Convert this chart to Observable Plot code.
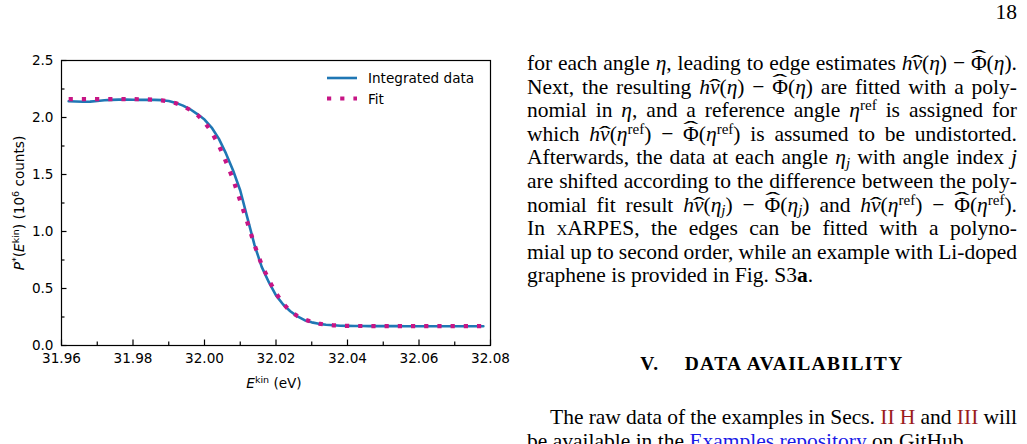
<!DOCTYPE html>
<html><head><meta charset="utf-8">
<script src="https://cdn.jsdelivr.net/npm/d3@7"></script>
<script src="https://cdn.jsdelivr.net/npm/@observablehq/plot@0.6"></script>
<style>
html,body{margin:0;padding:0;background:#fff;}
body{width:1027px;height:444px;overflow:hidden;position:relative;}
#chart{position:absolute;left:0;top:0;}
.tx{position:absolute;font-family:"Liberation Serif","Times New Roman",serif;font-size:21.5px;line-height:23.6px;color:#000;}
.col{left:527px;width:490px;top:52px;}
.col div{text-align:justify;text-align-last:justify;height:23.6px;word-spacing:-2px;}
.col div.last{text-align-last:left;word-spacing:0;}
sup{font-size:0.7em;line-height:0;vertical-align:0;position:relative;top:-0.45em;}
sub{font-size:0.7em;line-height:0;vertical-align:0;position:relative;top:0.25em;}
.acc{position:relative;display:inline-block;}
.mk{position:absolute;left:0;width:100%;top:0;text-align:center;text-align-last:center;font-style:normal;line-height:23.6px;transform:scaleX(1.7);pointer-events:none;}
.acc.cap .mk{top:-0.22em;transform:scaleX(2.1);}
.head{left:527px;width:490px;top:351.5px;text-align:center;font-weight:bold;font-size:19.5px;letter-spacing:1.4px;}
.para{left:527px;width:490px;top:406px;}
.para div{text-align:justify;text-align-last:justify;height:23.6px;word-spacing:-2px;}
.para div.open{text-align-last:left;white-space:nowrap;word-spacing:0;}
.red{color:#9b1c1c;}
.blue{color:#1a1ae6;}
.pg{right:10px;top:1px;}
</style></head>
<body>
<div id="chart"></div>
<div class="tx pg">18</div>
<div class="tx col">
<div>for each angle <i>η</i>, leading to edge estimates <i>h<span class="acc">ν<span class="mk">ˆ</span></span></i>(<i>η</i>) − <span class="acc cap">Φ<span class="mk">ˆ</span></span>(<i>η</i>).</div>
<div>Next, the resulting <i>h<span class="acc">ν<span class="mk">ˆ</span></span></i>(<i>η</i>) − <span class="acc cap">Φ<span class="mk">ˆ</span></span>(<i>η</i>) are fitted with a poly-</div>
<div>nomial in <i>η</i>, and a reference angle <i>η</i><sup>ref</sup> is assigned for</div>
<div>which <i>h<span class="acc">ν<span class="mk">ˆ</span></span></i>(<i>η</i><sup>ref</sup>) − <span class="acc cap">Φ<span class="mk">ˆ</span></span>(<i>η</i><sup>ref</sup>) is assumed to be undistorted.</div>
<div>Afterwards, the data at each angle <i>η<sub>j</sub></i> with angle index <i>j</i></div>
<div>are shifted according to the difference between the poly-</div>
<div>nomial fit result <i>h<span class="acc">ν<span class="mk">ˆ</span></span></i>(<i>η<sub>j</sub></i>) − <span class="acc cap">Φ<span class="mk">ˆ</span></span>(<i>η<sub>j</sub></i>) and <i>h<span class="acc">ν<span class="mk">ˆ</span></span></i>(<i>η</i><sup>ref</sup>) − <span class="acc cap">Φ<span class="mk">ˆ</span></span>(<i>η</i><sup>ref</sup>).</div>
<div>In <span style="font-variant:small-caps">xARPES</span>, the edges can be fitted with a polyno-</div>
<div>mial up to second order, while an example with Li-doped</div>
<div class="last">graphene is provided in Fig. S3<b>a</b>.</div>
</div>
<div class="tx head">V.&nbsp;&nbsp;&nbsp;&nbsp;DATA AVAILABILITY</div>
<div class="tx para">
<div style="text-indent:23px">The raw data of the examples in Secs. <span class="red">II H</span> and <span class="red">III</span> will</div>
<div class="open">be available in the <span class="blue">Examples repository</span> on GitHub.</div>
</div>
<script>
const energy = [31.962,31.964,31.966,31.968,31.970,31.972,31.974,31.976,31.978,31.980,
  31.982,31.984,31.986,31.988,31.990,31.992,31.994,31.996,31.998,32.000,
  32.002,32.004,32.006,32.008,32.010,32.012,32.014,32.016,32.018,32.020,
  32.022,32.024,32.026,32.028,32.030,32.032,32.034,32.036,32.038,32.040,
  32.042,32.044,32.046,32.048,32.050,32.052,32.054,32.056,32.058,32.060,
  32.062,32.064,32.066,32.068,32.070,32.072,32.074,32.076,32.078];
const integrated = [2.143,2.140,2.138,2.139,2.145,2.151,2.155,2.157,2.157,2.156,
  2.155,2.155,2.155,2.152,2.145,2.128,2.104,2.072,2.030,1.982,
  1.912,1.815,1.685,1.535,1.360,1.120,0.880,0.690,0.555,0.440,
  0.360,0.300,0.255,0.222,0.203,0.190,0.182,0.177,0.173,0.172,
  0.171,0.171,0.170,0.170,0.170,0.170,0.170,0.169,0.169,0.169,
  0.169,0.169,0.169,0.169,0.169,0.169,0.169,0.169,0.169];
const fit = [2.161,2.161,2.161,2.161,2.162,2.162,2.162,2.162,2.161,2.161,
  2.160,2.159,2.156,2.150,2.141,2.125,2.100,2.066,2.023,1.960,
  1.872,1.757,1.612,1.459,1.268,1.078,0.881,0.708,0.575,0.458,
  0.368,0.299,0.258,0.229,0.207,0.192,0.182,0.177,0.174,0.172,
  0.171,0.171,0.171,0.170,0.170,0.170,0.170,0.170,0.170,0.170,
  0.170,0.170,0.170,0.170,0.170,0.170,0.170,0.170,0.170];
const xMajor = [31.96,31.98,32.00,32.02,32.04,32.06,32.08];
const xMinor = [31.97,31.99,32.01,32.03,32.05,32.07];
const yMajor = [0,0.5,1.0,1.5,2.0,2.5];
const yMinor = [0.25,0.75,1.25,1.75,2.25];
const seriesNames = ["Integrated data","Fit"];
const seriesColors = ["#1f77b4","#c71585"];

const dataRows = energy.map((e,i)=>({E:e,P:integrated[i]}));
const fitRows = energy.map((e,i)=>({E:e,P:fit[i]}));

const W=520,H=400,mL=61,mR=30,mT=60,mB=55;
const fw=W-mL-mR, fh=H-mT-mB;
const tickStyle={stroke:"black",strokeWidth:1.2};
const svg = Plot.plot({
  width:W,height:H,marginLeft:mL,marginRight:mR,marginTop:mT,marginBottom:mB,
  style:{fontFamily:"DejaVu Sans",fontSize:"13.6px",color:"black",background:"transparent",overflow:"visible"},
  x:{domain:[31.96,32.08]},
  y:{domain:[0,2.5]},
  marks:[
    Plot.axisX(xMajor,{tickSize:0,tickPadding:8,tickFormat:d3.format(".2f"),label:null}),
    Plot.axisY(yMajor,{tickSize:0,tickPadding:8,tickFormat:d3.format(".1f"),label:null}),
    Plot.tickX(xMajor,{x:d=>d,insetTop:fh-5.5,...tickStyle}),
    Plot.tickX(xMinor,{x:d=>d,insetTop:fh-3.5,...tickStyle}),
    Plot.tickY(yMajor,{y:d=>d,insetRight:fw-5.5,...tickStyle}),
    Plot.tickY(yMinor,{y:d=>d,insetRight:fw-3.5,...tickStyle}),
    Plot.line(dataRows,{x:"E",y:"P",stroke:seriesColors[0],strokeWidth:2.6}),
    Plot.line(fitRows,{x:"E",y:"P",stroke:seriesColors[1],strokeWidth:4.2,strokeDasharray:"4.2,9",strokeLinecap:"butt"}),
    Plot.frame({stroke:"black",strokeWidth:1.2})
  ]
});
document.getElementById("chart").appendChild(svg);
const s = d3.select(svg);
// x label
const xl = s.append("text").attr("x",274).attr("y",388).attr("text-anchor","middle")
  .attr("font-family","DejaVu Sans").attr("font-size","13.6px").attr("fill","black");
xl.append("tspan").attr("font-style","italic").text("E");
xl.append("tspan").attr("font-size","9.5px").attr("dy",-5.5).text("kin");
xl.append("tspan").attr("dy",5.5).text(" (eV)");
// y label
const yl = s.append("text").attr("transform","translate(24,203) rotate(-90)").attr("text-anchor","middle")
  .attr("font-family","DejaVu Sans").attr("font-size","13.6px").attr("fill","black");
yl.append("tspan").attr("font-style","italic").text("P");
yl.append("tspan").attr("font-size","9.5px").attr("dy",-5.5).text("*");
yl.append("tspan").attr("dy",5.5).text("(");
yl.append("tspan").attr("font-style","italic").text("E");
yl.append("tspan").attr("font-size","9.5px").attr("dy",-5.5).text("kin");
yl.append("tspan").attr("dy",5.5).text(") (10");
yl.append("tspan").attr("font-size","9.5px").attr("dy",-5.5).text("6");
yl.append("tspan").attr("dy",5.5).text(" counts)");
// legend
const lg = s.append("g").attr("font-family","DejaVu Sans").attr("font-size","13.6px").attr("text-anchor","start");
lg.append("line").attr("x1",327).attr("x2",357).attr("y1",78).attr("y2",78)
  .attr("stroke",seriesColors[0]).attr("stroke-width",2.6);
lg.append("text").attr("x",368).attr("y",83).attr("text-anchor","start").attr("fill","black").text(seriesNames[0]);
lg.append("line").attr("x1",327).attr("x2",357).attr("y1",98.5).attr("y2",98.5)
  .attr("stroke",seriesColors[1]).attr("stroke-width",4.2).attr("stroke-dasharray","4.2,9");
lg.append("text").attr("x",368).attr("y",103.5).attr("text-anchor","start").attr("fill","black").text(seriesNames[1]);
</script>
</body></html>
